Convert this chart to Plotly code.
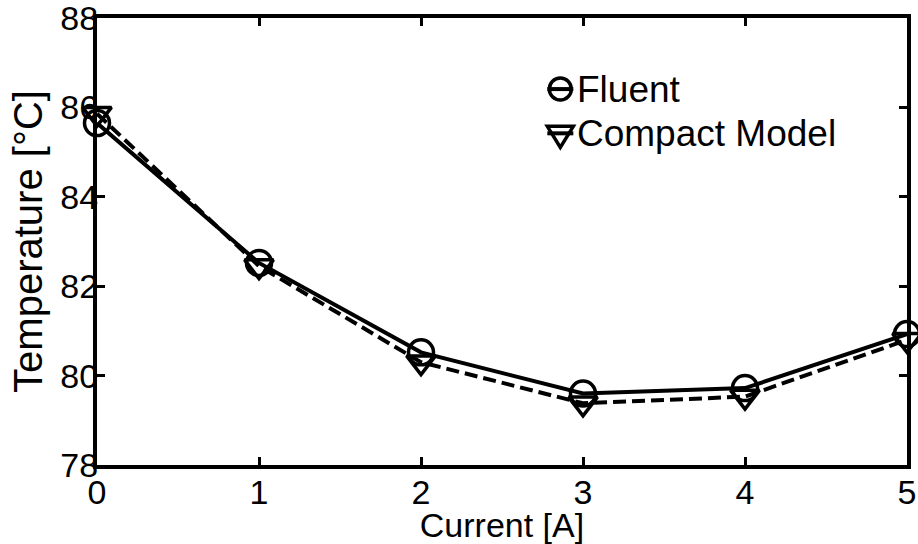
import plotly.graph_objects as go

# Junction temperature versus drive current
current_a = [0, 1, 2, 3, 4, 5]
temp_fluent = [85.65, 82.52, 80.52, 79.60, 79.72, 80.93]
temp_compact = [85.86, 82.45, 80.30, 79.38, 79.53, 80.80]

x_ticks = [0, 1, 2, 3, 4, 5]
y_ticks = [78, 80, 82, 84, 86, 88]
series_names = ["Fluent", "Compact Model"]

FONT = "Liberation Sans, Arial, Helvetica, sans-serif"
MARKER_SIZE = 25
MARKER_LW = 3.5

fig = go.Figure()
fig.add_trace(go.Scatter(
    x=current_a, y=temp_fluent, name=series_names[0],
    mode="lines+markers", cliponaxis=False, showlegend=False,
    line=dict(color="black", width=4),
    marker=dict(symbol="circle-open", size=MARKER_SIZE, color="black",
                line=dict(width=MARKER_LW, color="black")),
))
fig.add_trace(go.Scatter(
    x=current_a, y=temp_compact, name=series_names[1],
    mode="lines+markers", cliponaxis=False, showlegend=False,
    line=dict(color="black", width=4, dash="13px,6px"),
    marker=dict(symbol="triangle-down-open", size=MARKER_SIZE, color="black",
                line=dict(width=MARKER_LW, color="black")),
))

axis_common = dict(
    showline=True, linecolor="black", linewidth=4, mirror="ticks",
    ticks="inside", ticklen=8, tickwidth=3, tickcolor="black",
    showgrid=False, zeroline=False, ticklabeloverflow="allow",
    automargin=False,
)

fig.update_xaxes(
    range=[0, 5], tickvals=x_ticks, ticktext=[str(v) for v in x_ticks],
    ticklabelstandoff=-6,
    tickfont=dict(family=FONT, size=34, color="black"),
    title=dict(text="Current [A]", font=dict(family=FONT, size=34, color="black"),
               standoff=0),
    **axis_common,
)
fig.update_yaxes(
    range=[78, 88], tickvals=y_ticks, ticktext=[str(v) for v in y_ticks],
    ticklabelstandoff=-12,
    tickfont=dict(family=FONT, size=34, color="black"),
    title=dict(text="Temperature [°C]", font=dict(family=FONT, size=40, color="black"),
               standoff=6),
    **axis_common,
)

# Legend: symbol + label rows in the upper right of the plot area
legend_x = 0.572          # symbol centre (paper)
legend_text_x = 0.590     # label left edge (paper)
legend_rows = [0.841, 0.742]
half = 13
r = 11
tri_w, tri_top, tri_bot = 13, -7, 14

shapes = []
annotations = []
# row 1: circle with solid stroke
shapes.append(dict(type="line", xref="paper", yref="paper",
                   xsizemode="pixel", ysizemode="pixel",
                   xanchor=legend_x, yanchor=legend_rows[0],
                   x0=-half, x1=half, y0=0, y1=0,
                   line=dict(color="black", width=4)))
shapes.append(dict(type="circle", xref="paper", yref="paper",
                   xsizemode="pixel", ysizemode="pixel",
                   xanchor=legend_x, yanchor=legend_rows[0],
                   x0=-r, x1=r, y0=-r, y1=r,
                   line=dict(color="black", width=MARKER_LW)))
# row 2: downward triangle with dashed stroke
shapes.append(dict(type="line", xref="paper", yref="paper",
                   xsizemode="pixel", ysizemode="pixel",
                   xanchor=legend_x, yanchor=legend_rows[1],
                   x0=-half, x1=half, y0=0, y1=0,
                   line=dict(color="black", width=4)))
shapes.append(dict(type="path", xref="paper", yref="paper",
                   xsizemode="pixel", ysizemode="pixel",
                   xanchor=legend_x, yanchor=legend_rows[1],
                   path=f"M{-tri_w},{-tri_top} L{tri_w},{-tri_top} L0,{-tri_bot} Z",
                   line=dict(color="black", width=MARKER_LW)))
for name, yy in zip(series_names, legend_rows):
    annotations.append(dict(text=name, xref="paper", yref="paper",
                            x=legend_text_x, y=yy, xanchor="left", yanchor="middle",
                            showarrow=False,
                            font=dict(family=FONT, size=37, color="black")))

fig.update_layout(
    width=918, height=544,
    margin=dict(l=97, r=11, t=18, b=79),
    paper_bgcolor="white", plot_bgcolor="white",
    showlegend=False,
    shapes=shapes, annotations=annotations,
)

fig.write_html("out.html")
